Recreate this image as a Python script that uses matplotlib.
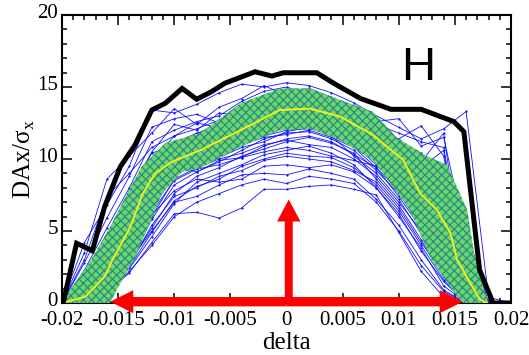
import numpy as np
import matplotlib
matplotlib.use("Agg")
import matplotlib.pyplot as plt
import matplotlib.transforms as mtransforms
from matplotlib.ticker import MultipleLocator

# ---- data ----
delta = [-0.020, -0.018, -0.016, -0.014, -0.012, -0.010, -0.008, -0.006, -0.004, -0.002, 0.000,
         0.002, 0.004, 0.006, 0.008, 0.010, 0.012, 0.014, 0.016, 0.018, 0.020]

# individual particle curves (blue)
curves = [
    [0, 4.2, 6.8, 9.5, 13.4, 13.2, 13.8, 14.6, 15.2, 15.0, 15.3, 15.1, 14.6, 13.9, 13.0, 12.2, 11.4, 12.1, 13.3, 0.4, 0],
    [0, 3.5, 8.6, 10.2, 11.8, 13.5, 12.4, 13.6, 14.2, 15.1, 14.4, 14.9, 14.3, 13.2, 12.6, 12.8, 10.9, 11.5, 4.5, 0, 0],
    [0, 2.8, 5.9, 8.8, 12.2, 12.8, 13.1, 12.5, 13.8, 14.3, 14.6, 14.2, 13.6, 13.1, 12.0, 11.4, 12.3, 10.2, 2.1, 0, 0],
    [0, 1.9, 4.8, 7.6, 10.5, 12.4, 12.0, 13.2, 13.0, 13.9, 14.1, 14.4, 13.9, 12.7, 11.5, 10.6, 9.8, 11.8, 1.0, 0, 0],
    [0, 1.2, 3.6, 6.4, 9.2, 11.1, 11.8, 12.2, 12.6, 13.3, 13.8, 13.6, 13.2, 12.1, 11.2, 10.1, 8.9, 6.5, 0.6, 0, 0],
    [0, 0.8, 2.6, 5.5, 8.4, 10.3, 11.2, 11.6, 12.4, 13.0, 13.4, 13.7, 12.9, 12.4, 10.8, 9.4, 8.0, 5.6, 1.4, 0, 0],
    [0, 0.5, 2.0, 4.8, 7.9, 9.8, 10.6, 11.4, 12.0, 12.6, 13.2, 13.3, 13.0, 12.0, 10.5, 9.0, 7.4, 5.2, 0, 0, 0],
    [0, 0.3, 1.4, 4.2, 7.2, 9.4, 10.2, 10.9, 11.6, 12.3, 12.9, 12.8, 12.4, 11.5, 10.2, 8.6, 6.8, 4.4, 0.8, 0, 0],
    [0, 0.9, 3.0, 6.0, 8.9, 10.6, 11.0, 11.8, 12.6, 13.4, 13.9, 14.1, 13.5, 12.5, 11.4, 9.8, 8.6, 6.2, 2.4, 0, 0],
    [0, 0.4, 1.7, 3.6, 6.5, 8.9, 9.6, 10.3, 11.0, 11.8, 12.2, 12.5, 12.0, 11.2, 9.8, 8.2, 6.2, 3.8, 0, 0, 0],
    [0, 0.2, 1.0, 3.1, 5.8, 8.2, 9.1, 9.8, 10.6, 11.4, 11.8, 11.9, 11.4, 10.6, 9.2, 7.6, 5.4, 2.9, 0, 0, 0],
    [0, 0.6, 2.2, 4.5, 7.0, 9.1, 9.9, 10.1, 10.8, 11.2, 11.9, 12.2, 11.6, 10.2, 9.0, 7.2, 4.8, 2.2, 0, 0, 0],
    [0, 0.3, 1.2, 2.8, 5.2, 7.6, 8.8, 9.4, 10.2, 10.7, 11.2, 11.5, 11.1, 10.4, 8.6, 6.8, 4.4, 1.8, 0, 0, 0],
    [0, 0.2, 0.8, 2.4, 4.6, 6.9, 8.4, 9.0, 9.6, 10.3, 10.6, 10.9, 10.4, 9.6, 8.0, 6.0, 3.8, 1.2, 0, 0, 0],
    [0, 0.1, 0.7, 2.1, 4.2, 6.2, 6.3, 5.9, 6.6, 7.9, 7.9, 8.1, 8.2, 7.9, 7.5, 4.9, 2.2, 0.4, 0, 0, 0],
    [0, 0.2, 1.1, 2.9, 5.0, 7.0, 7.4, 8.2, 8.9, 9.0, 8.9, 9.3, 9.0, 8.6, 7.2, 5.4, 3.0, 0.9, 0, 0, 0],
    [0, 0.4, 1.6, 3.5, 6.1, 7.8, 8.6, 8.4, 8.6, 9.5, 9.6, 9.4, 9.6, 9.1, 8.0, 6.2, 3.6, 1.5, 0, 0, 0],
    [0, 1.5, 4.0, 7.0, 9.8, 11.6, 12.1, 12.7, 13.4, 14.0, 14.5, 14.8, 14.2, 13.0, 12.0, 11.0, 10.4, 9.0, 3.2, 0, 0],
    [0, 2.3, 5.2, 8.0, 11.2, 12.0, 12.6, 13.0, 14.0, 14.7, 15.0, 14.5, 14.0, 13.5, 12.4, 11.8, 11.2, 10.8, 1.8, 0, 0],
    [0, 0.7, 2.4, 5.0, 8.2, 10.0, 10.8, 11.4, 12.1, 12.9, 13.1, 13.0, 12.6, 11.8, 10.6, 9.2, 7.9, 6.8, 3.4, 0, 0],
    [0, 0.3, 1.3, 3.2, 6.0, 8.6, 9.4, 10.0, 10.4, 11.0, 11.3, 11.0, 10.8, 10.0, 8.8, 7.0, 5.0, 2.6, 0, 0, 0],
    [0, 1.0, 3.3, 6.8, 9.6, 10.9, 11.5, 12.0, 12.2, 12.8, 13.1, 13.3, 12.6, 11.9, 11.0, 10.4, 9.5, 8.1, 1.2, 0, 0],
    [0, 0.5, 1.9, 4.0, 7.4, 9.6, 10.4, 10.6, 11.2, 11.8, 12.4, 12.6, 12.2, 11.0, 9.6, 8.0, 5.8, 3.2, 0, 0, 0],
    [0, 0.2, 0.9, 2.6, 5.4, 7.4, 8.0, 8.8, 9.2, 9.9, 10.2, 10.0, 9.8, 9.2, 8.4, 6.6, 4.2, 2.0, 0, 0, 0],
    [0, 3.0, 7.4, 9.0, 10.8, 11.6, 12.5, 12.2, 12.9, 13.6, 13.4, 13.9, 13.4, 12.8, 11.8, 11.0, 10.0, 9.6, 5.2, 0, 0],
    [0, 1.6, 3.9, 5.8, 8.0, 9.6, 9.1, 9.9, 10.1, 10.5, 10.8, 10.6, 10.2, 9.9, 9.5, 8.4, 6.6, 4.8, 0.5, 0, 0],
    [0, 0.6, 2.8, 6.2, 9.0, 10.2, 10.9, 11.2, 11.9, 12.4, 12.7, 12.9, 12.3, 11.6, 10.4, 9.6, 10.4, 9.2, 2.8, 0, 0],
    [0, 1.1, 4.4, 7.8, 10.4, 11.0, 11.7, 12.6, 13.1, 13.6, 14.0, 13.8, 13.0, 12.2, 11.6, 10.8, 9.4, 10.6, 0.3, 0, 0],
    [0, 0.4, 1.5, 3.9, 6.8, 9.0, 10.0, 10.8, 11.5, 12.1, 12.6, 12.7, 12.2, 11.3, 10.0, 8.4, 6.4, 4.0, 0.2, 0, 0],
    [0, 0.2, 1.3, 3.4, 6.3, 8.5, 9.3, 9.6, 10.1, 10.9, 11.4, 11.6, 11.2, 10.3, 9.4, 7.4, 5.2, 2.4, 0, 0, 0],
    [0, 2.0, 4.6, 7.2, 9.9, 10.8, 11.3, 12.4, 12.9, 13.3, 13.6, 14.0, 13.4, 12.6, 11.2, 10.2, 9.0, 7.4, 2.8, 0, 0],
    [0, 0.3, 1.1, 2.5, 4.9, 7.1, 8.1, 8.6, 9.5, 10.0, 10.4, 10.2, 10.1, 9.4, 8.2, 6.4, 4.0, 1.6, 0, 0, 0],
    [0, 0.9, 3.4, 5.2, 7.6, 9.2, 10.1, 10.7, 11.3, 11.6, 12.0, 12.1, 11.8, 11.0, 9.9, 8.8, 7.0, 5.0, 1.0, 0, 0],
    [0, 1.4, 3.1, 6.6, 8.6, 10.4, 11.3, 11.9, 12.8, 13.2, 13.5, 13.1, 12.9, 12.3, 11.0, 9.6, 9.9, 8.8, 3.8, 0, 0],
    [0, 0.2, 0.6, 2.2, 4.0, 6.0, 7.0, 7.6, 8.2, 8.6, 8.3, 8.8, 8.6, 8.3, 7.0, 5.0, 2.6, 0.8, 0, 0, 0],
    [0, 0.5, 2.1, 4.6, 7.6, 9.4, 9.8, 10.5, 11.0, 11.5, 11.7, 12.0, 11.5, 10.8, 9.4, 7.8, 6.0, 3.4, 0, 0, 0],
]

# spread band (green), outline going over the top then back along the bottom
band_x = [-0.0200, -0.0195, -0.0174, -0.0157, -0.0142, -0.0129, -0.0108, -0.0077, -0.0041, -0.0006,
          0.0021, 0.0048, 0.0077, 0.0098, 0.0125, 0.0143, 0.0161, 0.0168, 0.0177, 0.0180,
          0.0157, 0.0150, 0.0129, 0.0110, 0.0077, 0.0048, 0.0021, -0.0006, -0.0041, -0.0077,
          -0.0093, -0.0111, -0.0123, -0.0136, -0.0153, -0.0157]
band_y = [0.0, 0.67, 3.0, 5.3, 7.6, 9.47, 11.1, 11.8, 13.87, 14.9,
          14.9, 14.1, 13.28, 11.5, 10.2, 9.6, 6.46, 3.0, 0.67, 0.0,
          0.0, 0.67, 3.0, 6.46, 9.93, 11.3, 12.1, 12.0, 10.85, 9.35,
          9.1, 7.6, 5.3, 3.0, 0.67, 0.0]

# mean curve (yellow)
mean_x = [-0.0200, -0.0179, -0.0162, -0.0155, -0.0139, -0.0128, -0.0117, -0.0102, -0.0077, -0.0041,
          -0.0006, 0.0021, 0.0048, 0.0077, 0.0104, 0.0119, 0.0134, 0.0146, 0.0152, 0.0165, 0.0172, 0.0178]
mean_y = [0.0, 0.44, 1.83, 3.0, 5.3, 7.6, 9.0, 9.81, 10.6, 12.0,
          13.4, 13.5, 12.94, 11.67, 9.93, 7.6, 6.46, 4.84, 3.0, 1.2, 0.3, 0.0]

# maximum envelope (black)
env_x = [-0.0199, -0.0187, -0.0173, -0.0162, -0.0148, -0.0135, -0.0120, -0.0108, -0.0093, -0.0080,
         -0.0067, -0.0055, -0.0028, -0.0013, -0.0003, 0.0027, 0.0042, 0.0066, 0.0093, 0.0120,
         0.0149, 0.0158, 0.0172, 0.0184, 0.0197]
env_y = [0.0, 4.15, 3.63, 6.7, 9.47, 10.97, 13.4, 13.87, 14.9, 14.15,
         14.67, 15.26, 16.06, 15.76, 15.99, 15.99, 15.26, 14.2, 13.45, 13.45,
         12.6, 11.9, 2.3, 0.0, 0.0]

xtick_vals = [-0.02, -0.015, -0.01, -0.005, 0, 0.005, 0.01, 0.015, 0.02]
xtick_text = ["-0.02", "-0.015", "-0.01", "-0.005", "0", "0.005", "0.01", "0.015", "0.02"]
ytick_vals = [0, 5, 10, 15, 20]

serif = ["Liberation Serif", "DejaVu Serif"]
plt.rcParams["font.family"] = serif
plt.rcParams["hatch.linewidth"] = 0.9

fig = plt.figure(figsize=(5.29, 3.55), dpi=100)
ax = fig.add_axes([0.1172, 0.1465, 0.8488, 0.8112])

# blue curves
for c in curves:
    ax.plot(delta, c, color="#1010ff", lw=0.6, marker="o", ms=1.6, mec="none", zorder=2)

# green band with teal texture
ax.fill(band_x, band_y, facecolor="#6bd66b", edgecolor="#2a8c80", hatch="xxxx", lw=0, zorder=3)

# mean and envelope
ax.plot(mean_x, mean_y, color="#f0f020", lw=1.4, zorder=4)
ax.plot(env_x, env_y, color="black", lw=3.6, solid_joinstyle="miter", zorder=5)

# red arrows
red = "#ff0000"
ax.arrow(0, 0.09, -0.0157, 0, width=0.65, head_width=1.6, head_length=0.00205,
         length_includes_head=True, color=red, lw=0, clip_on=False, zorder=10)
ax.arrow(0, 0.09, 0.0157, 0, width=0.65, head_width=1.6, head_length=0.00205,
         length_includes_head=True, color=red, lw=0, clip_on=False, zorder=10)
ax.arrow(0.0002, 0.09, 0, 7.1, width=0.00071, head_width=0.00208, head_length=1.53,
         length_includes_head=True, color=red, lw=0, clip_on=False, zorder=10)

ax.text(0.0117, 16.3, "H", fontsize=34, family=["Liberation Sans", "DejaVu Sans"],
        ha="center", va="center", zorder=6)

ax.set_xlim(-0.02, 0.02)
ax.set_ylim(0, 20)
ax.set_xticks(xtick_vals)
ax.set_xticklabels(xtick_text)
ax.set_yticks(ytick_vals)
ax.xaxis.set_minor_locator(MultipleLocator(0.001))
ax.yaxis.set_minor_locator(MultipleLocator(1))
ax.tick_params(which="both", direction="in", top=True, right=True, labelsize=15, width=1.1)
ax.tick_params(which="major", length=7)
ax.tick_params(which="minor", length=3.6)
ax.tick_params(axis="x", which="major", pad=6)
ax.tick_params(axis="y", which="major", pad=3)
for s in ax.spines.values():
    s.set_linewidth(1.5)

# nudge the y tick labels up a little so "0" clears "-0.02"
up = mtransforms.ScaledTranslation(0, 3 / 72, fig.dpi_scale_trans)
for lbl in ax.get_yticklabels():
    lbl.set_transform(lbl.get_transform() + up)

ax.set_xlabel("delta", fontsize=18, labelpad=1)
ax.set_ylabel(r"DAx/σ$_\mathregular{x}$", fontsize=18, labelpad=0)

fig.savefig("out.png", dpi=100)
